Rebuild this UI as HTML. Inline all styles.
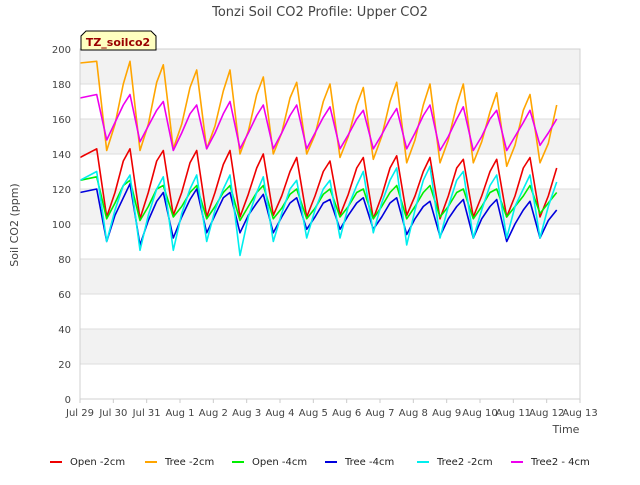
<!DOCTYPE html>
<html><head><meta charset="utf-8"><style>
body{margin:0;background:#fff;font-family:"Liberation Sans",sans-serif;}
svg text{font-family:"DejaVu Sans","Liberation Sans",sans-serif;}
</style></head><body>
<svg id="c" width="640" height="480" xmlns="http://www.w3.org/2000/svg">
<rect x="0" y="0" width="640" height="480" fill="#fff"/>
<text x="320" y="16" text-anchor="middle" font-size="13" fill="#444">Tonzi Soil CO2 Profile: Upper CO2</text>
<g id="bands"></g><g id="grid"></g><g id="series"></g><g id="axes"></g>
<text x="18" y="225" text-anchor="middle" font-size="11" fill="#444" transform="rotate(-90 18 225)">Soil CO2 (ppm)</text>
<text x="566" y="433" text-anchor="middle" font-size="11" fill="#444">Time</text>
<g>
<path d="M81,50 L81,36 L86,31 L151,31 L156,36 L156,50 Z" fill="#ffffc0" stroke="#000" stroke-width="1"/>
<text x="118" y="46" text-anchor="middle" font-size="11" font-weight="bold" fill="#990000">TZ_soilco2</text>
</g>
<g id="legend"></g>
</svg>
<script>
const yTicks=[0,20,40,60,80,100,120,140,160,180,200];
const xTickLabels=["Jul 29","Jul 30","Jul 31","Aug 1","Aug 2","Aug 3","Aug 4","Aug 5","Aug 6","Aug 7","Aug 8","Aug 9","Aug 10","Aug 11","Aug 12","Aug 13"];
const times=[0,0.5,0.8,1.05,1.3,1.5,1.8,2.05,2.3,2.5,2.8,3.05,3.3,3.5,3.8,4.05,4.3,4.5,4.8,5.05,5.3,5.5,5.8,6.05,6.3,6.5,6.8,7.05,7.3,7.5,7.8,8.05,8.3,8.5,8.8,9.05,9.3,9.5,9.8,10.05,10.3,10.5,10.8,11.05,11.3,11.5,11.8,12.05,12.3,12.5,12.8,13.05,13.3,13.5,13.8,14.05,14.3];
const seriesNames=["Open -2cm","Tree -2cm","Open -4cm","Tree -4cm","Tree2 -2cm","Tree2 - 4cm"];
const openM2=[138,143,104,118,136,143,103,118,136,142,105,118,135,142,104,118,134,142,104,117,132,140,105,116,130,138,104,116,130,136,105,117,132,138,103,116,132,139,105,116,130,138,103,116,132,137,104,116,130,137,104,116,132,138,104,116,132];
const treeM2=[192,193,142,157,180,193,142,157,181,191,143,157,178,188,143,156,176,188,140,153,174,184,140,152,172,181,140,151,170,180,138,150,168,178,137,150,170,181,135,148,168,180,135,148,168,180,135,147,164,175,133,145,165,174,135,146,168];
const openM4=[125,127,103,112,122,125,102,110,120,122,104,110,118,122,103,110,118,122,102,110,118,122,103,109,117,120,103,109,117,120,104,110,118,120,103,110,118,122,103,110,118,122,104,110,118,120,103,110,118,120,104,110,116,122,106,112,118];
const treeM4=[118,120,90,105,115,123,88,102,113,118,92,104,114,120,95,105,115,118,95,105,112,117,95,104,112,115,97,104,112,114,97,105,112,115,97,104,112,115,94,103,110,113,93,103,110,114,92,103,110,114,90,100,108,113,92,102,108];
const tree2M2=[125,130,90,108,122,128,85,105,120,127,85,106,120,128,90,108,120,128,82,104,118,127,90,106,120,125,92,108,120,125,92,110,122,130,95,112,125,132,88,108,125,133,92,110,125,130,92,108,122,128,92,110,120,128,92,110,124];
const tree2M4=[172,174,148,158,168,174,147,156,165,170,142,152,163,168,143,152,163,170,143,152,162,168,143,152,162,168,143,152,161,167,143,151,160,165,143,151,160,166,143,152,162,168,142,150,160,167,142,150,160,165,142,150,158,165,145,152,160];
const seriesData=[openM2,treeM2,openM4,treeM4,tree2M2,tree2M4];
const colors=["#ee0000","#ffa500","#00ee00","#0000dd","#00eeee","#ee00ee"];
const X0=80,X1=580,Y0=399,Y1=49;
const xs=d=>X0+(X1-X0)*d/15;
const ys=v=>Y0-(Y0-Y1)*v/200;
const NS="http://www.w3.org/2000/svg";
function mk(tag,attrs,parent){const e=document.createElementNS(NS,tag);for(const k in attrs)e.setAttribute(k,attrs[k]);parent.appendChild(e);return e;}
const bands=document.getElementById('bands'),grid=document.getElementById('grid'),ser=document.getElementById('series'),axes=document.getElementById('axes'),leg=document.getElementById('legend');
for(let i=0;i<yTicks.length-1;i++){
 if(i%2===1){const r=mk('rect',{x:X0,y:ys(yTicks[i+1]),width:X1-X0,height:ys(yTicks[i])-ys(yTicks[i+1]),fill:'#f2f2f2'},bands);
 
 }
}
yTicks.forEach(v=>{
 const l=mk('line',{x1:X0,x2:X1,y1:ys(v),y2:ys(v),stroke:'#dddddd','stroke-width':1},grid);
 
 
 const t=mk('text',{x:X0-9,y:ys(v)+4,'text-anchor':'end','font-size':10,fill:'#444'},axes);t.textContent=v;
 
 
});
xTickLabels.forEach((s,i)=>{
 const l=mk('line',{x1:xs(i),x2:xs(i),y1:Y0,y2:Y0+4,stroke:'#ccc'},axes);
 
 
 const t=mk('text',{x:xs(i),y:Y0+17,'text-anchor':'middle','font-size':10,fill:'#444'},axes);t.textContent=s;
 
 
});
const fr=mk('rect',{x:X0,y:Y1,width:X1-X0,height:Y0-Y1,fill:'none',stroke:'#d0d0d0'},axes);


seriesData.forEach((arr,si)=>{
 const pts=arr.map((v,i)=>xs(times[i]).toFixed(1)+','+ys(v).toFixed(1)).join(' ');
 const p=mk('polyline',{points:pts,fill:'none',stroke:colors[si],'stroke-width':1.6,'stroke-linejoin':'round'},ser);
 
 
});
const legX=[50,145,232,325,417,511];
seriesNames.forEach((n,i)=>{
 const g=mk('g',{},leg);
 
 
 mk('line',{x1:legX[i],x2:legX[i]+12,y1:462,y2:462,stroke:colors[i],'stroke-width':2},g);
 const t=mk('text',{x:legX[i]+20,y:465,'font-size':10,fill:'#222'},g);t.textContent=n;
});
</script>
</body></html>
